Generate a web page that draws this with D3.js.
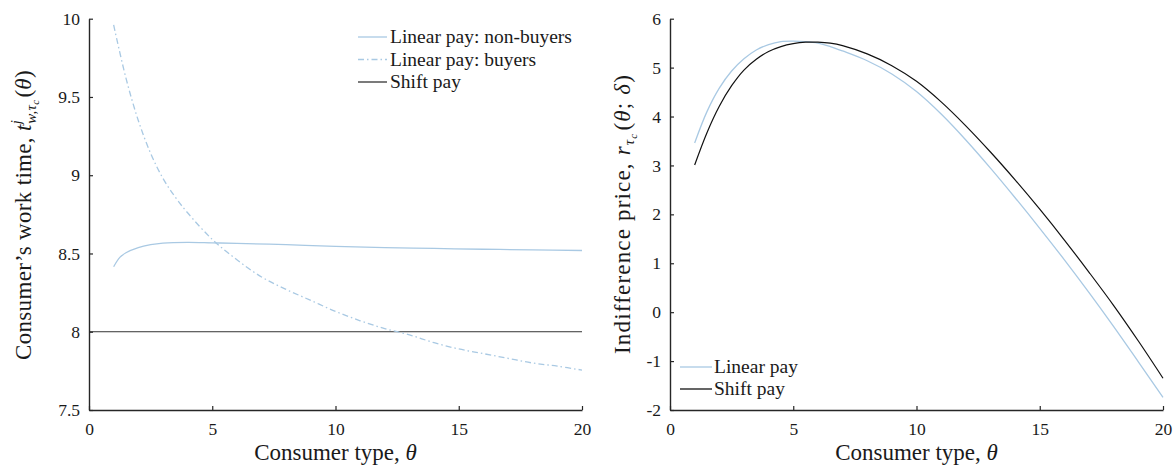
<!DOCTYPE html>
<html>
<head>
<meta charset="utf-8">
<script src="https://cdn.jsdelivr.net/npm/d3@7/dist/d3.min.js"></script>
<style>
  html, body { margin: 0; padding: 0; background: #fff; }
  svg { display: block; }
  text { font-family: "Liberation Serif", "Times New Roman", serif; fill: #1a1a1a; }
</style>
</head>
<body>
<svg id="chart" width="1175" height="468"></svg>
<script>
// ---- Left panel: consumer work time ----
const thetaBuyers = [1, 1.5, 2, 2.5, 3, 3.5, 4, 5, 6, 7, 8, 9, 10, 11, 12, 13, 14, 15, 16, 17, 18, 19, 20];
const workBuyers  = [9.96, 9.62, 9.35, 9.14, 8.98, 8.86, 8.76, 8.59, 8.46, 8.35, 8.27, 8.20, 8.13, 8.07, 8.02, 7.98, 7.93, 7.89, 7.86, 7.83, 7.80, 7.78, 7.755];

const thetaNonBuyers = [1, 1.25, 1.5, 2, 2.5, 3, 4, 5, 6, 8, 10, 12, 14, 16, 18, 20];
const workNonBuyers  = [8.415, 8.475, 8.505, 8.538, 8.556, 8.566, 8.571, 8.568, 8.565, 8.556, 8.546, 8.538, 8.532, 8.527, 8.523, 8.519];

const thetaShiftWork = [0, 20];
const workShift      = [8, 8];

const leftXTicks = [0, 5, 10, 15, 20];
const leftYTicks = [7.5, 8, 8.5, 9, 9.5, 10];
const leftLegend = ["Linear pay: non-buyers", "Linear pay: buyers", "Shift pay"];

// ---- Right panel: indifference price ----
const thetaPrice = [1, 1.5, 2, 2.5, 3, 3.5, 4, 4.5, 5, 5.5, 6, 6.5, 7, 8, 9, 10, 11, 12, 13, 14, 15, 16, 17, 18, 19, 20];
const priceLinear = [3.46, 4.10, 4.58, 4.93, 5.18, 5.36, 5.47, 5.53, 5.54, 5.53, 5.50, 5.43, 5.34, 5.14, 4.87, 4.51, 4.05, 3.52, 2.945, 2.34, 1.715, 1.07, 0.40, -0.295, -1.015, -1.74];
const priceShift  = [3.01, 3.67, 4.21, 4.63, 4.95, 5.17, 5.33, 5.43, 5.49, 5.52, 5.52, 5.50, 5.45, 5.28, 5.04, 4.72, 4.30, 3.81, 3.275, 2.705, 2.105, 1.475, 0.815, 0.135, -0.59, -1.35];

const rightXTicks = [0, 5, 10, 15, 20];
const rightYTicks = [-2, -1, 0, 1, 2, 3, 4, 5, 6];
const rightLegend = ["Linear pay", "Shift pay"];

const BLUE = "#a9c9e3";
const AXIS = "#262626";
const DASHDOT = "6,3,1.5,3";

const svg = d3.select("#chart");

function zip(xs, ys) { return xs.map((x, i) => [x, ys[i]]); }

// plain hyphen for negatives, as in the typeset labels
const fmtNum = d => (d < 0 ? "-" : "") + (Math.abs(d) % 1 === 0 ? String(Math.abs(d)) : Math.abs(d).toFixed(1));

function drawAxes(g, x, y, xTicks, yTicks) {
  const xa = d3.axisBottom(x).tickValues(xTicks).tickSizeInner(-4).tickSizeOuter(0).tickPadding(13).tickFormat(fmtNum);
  const ya = d3.axisLeft(y).tickValues(yTicks).tickSizeInner(-4).tickSizeOuter(0).tickPadding(9).tickFormat(fmtNum);
  const gx = g.append("g").attr("transform", `translate(0,${y.range()[0]})`).call(xa);
  const gy = g.append("g").attr("transform", `translate(${x.range()[0]},0)`).call(ya);
  [gx, gy].forEach(a => {
    a.attr("font-family", null);
    a.select(".domain").attr("stroke", AXIS).attr("stroke-width", 1.4);
    a.selectAll(".tick line").attr("stroke", AXIS).attr("stroke-width", 1.2);
    a.selectAll(".tick text").attr("font-size", 17.5).attr("fill", "#1a1a1a");
  });
}

function xLabel(g, x, yPos) {
  const t = g.append("text").attr("x", (x.range()[0] + x.range()[1]) / 2).attr("y", yPos)
    .attr("text-anchor", "middle").attr("font-size", 23);
  t.append("tspan").text("Consumer type, ");
  t.append("tspan").attr("font-style", "italic").text("θ");
}

// spread a label's letters so that it covers the given length
function fitLength(textSel, target) {
  const node = textSel.node();
  const len = node.getComputedTextLength();
  const n = node.textContent.length;
  if (len < target && n > 1) textSel.attr("letter-spacing", (target - len) / n);
}

const smooth = d3.curveCatmullRom.alpha(0.5);

// ================= Left panel =================
{
  const x = d3.scaleLinear().domain([0, 20]).range([89, 582]);
  const y = d3.scaleLinear().domain([7.5, 10]).range([410, 18.7]);
  const g = svg.append("g");
  const line = d3.line().x(d => x(d[0])).y(d => y(d[1])).curve(smooth);

  g.append("path").datum(zip(thetaShiftWork, workShift)).attr("d", line)
    .attr("fill", "none").attr("stroke", "#333").attr("stroke-width", 1);
  g.append("path").datum(zip(thetaNonBuyers, workNonBuyers)).attr("d", line)
    .attr("fill", "none").attr("stroke", BLUE).attr("stroke-width", 1.3);
  g.append("path").datum(zip(thetaBuyers, workBuyers)).attr("d", line)
    .attr("fill", "none").attr("stroke", BLUE).attr("stroke-width", 1.3)
    .attr("stroke-dasharray", DASHDOT);

  drawAxes(g, x, y, leftXTicks, leftYTicks);
  xLabel(g, x, 460);

  // rotated y label with sub/superscripts
  const yl = g.append("text").attr("transform", `translate(31,215) rotate(-90)`)
    .attr("text-anchor", "middle").attr("font-size", 23);
  yl.append("tspan").text("Consumer’s work time, ");
  yl.append("tspan").attr("font-style", "italic").text("t");
  yl.append("tspan").attr("font-style", "italic").attr("font-size", 15).attr("dy", -10).text("j");
  yl.append("tspan").attr("font-style", "italic").attr("font-size", 15).attr("dx", -4).attr("dy", 15).text("w,τ");
  yl.append("tspan").attr("font-style", "italic").attr("font-size", 11).attr("dy", 3).text("c");
  yl.append("tspan").attr("dy", -8).attr("dx", 2).text("(");
  yl.append("tspan").attr("font-style", "italic").text("θ");
  yl.append("tspan").text(")");
  fitLength(yl, 292);

  // legend
  const styles = [
    { stroke: BLUE, dash: null },
    { stroke: BLUE, dash: DASHDOT },
    { stroke: "#333", dash: null }
  ];
  const lg = g.append("g");
  leftLegend.forEach((name, i) => {
    const yy = 37 + i * 22.5;
    lg.append("line").attr("x1", 358).attr("x2", 387).attr("y1", yy).attr("y2", yy)
      .attr("stroke", styles[i].stroke).attr("stroke-width", 1.3)
      .attr("stroke-dasharray", styles[i].dash);
    lg.append("text").attr("x", 390).attr("y", yy + 6).attr("font-size", 19.5).text(name);
  });
}

// ================= Right panel =================
{
  const x = d3.scaleLinear().domain([0, 20]).range([670, 1163]);
  const y = d3.scaleLinear().domain([-2, 6]).range([410, 18.7]);
  const g = svg.append("g");
  const line = d3.line().x(d => x(d[0])).y(d => y(d[1])).curve(smooth);

  g.append("path").datum(zip(thetaPrice, priceLinear)).attr("d", line)
    .attr("fill", "none").attr("stroke", BLUE).attr("stroke-width", 1.3);
  g.append("path").datum(zip(thetaPrice, priceShift)).attr("d", line)
    .attr("fill", "none").attr("stroke", "#111").attr("stroke-width", 1.2);

  drawAxes(g, x, y, rightXTicks, rightYTicks);
  xLabel(g, x, 460);

  const yl = g.append("text").attr("transform", `translate(630,214) rotate(-90)`)
    .attr("text-anchor", "middle").attr("font-size", 23);
  yl.append("tspan").text("Indifference price, ");
  yl.append("tspan").attr("font-style", "italic").text("r");
  yl.append("tspan").attr("font-style", "italic").attr("font-size", 15).attr("dy", 4).text("τ");
  yl.append("tspan").attr("font-style", "italic").attr("font-size", 11).attr("dy", 3).text("c");
  yl.append("tspan").attr("dy", -7).attr("dx", 2).text("(");
  yl.append("tspan").attr("font-style", "italic").text("θ");
  yl.append("tspan").text("; ");
  yl.append("tspan").attr("font-style", "italic").text("δ");
  yl.append("tspan").text(")");
  fitLength(yl, 278);

  const styles = [{ stroke: BLUE }, { stroke: "#111" }];
  const lg = g.append("g");
  rightLegend.forEach((name, i) => {
    const yy = 367 + i * 22;
    lg.append("line").attr("x1", 680).attr("x2", 712).attr("y1", yy).attr("y2", yy)
      .attr("stroke", styles[i].stroke).attr("stroke-width", 1.3);
    lg.append("text").attr("x", 714).attr("y", yy + 6).attr("font-size", 19.5).text(name);
  });
}
</script>
</body>
</html>
